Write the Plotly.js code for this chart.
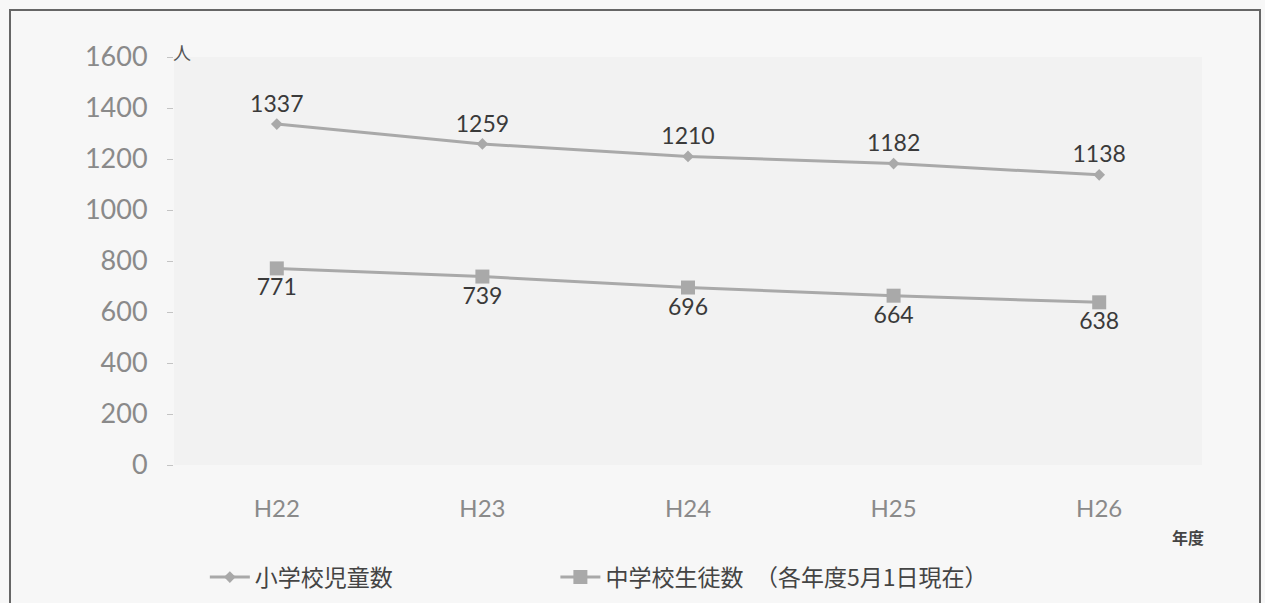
<!DOCTYPE html>
<html>
<head>
<meta charset="utf-8">
<script src="https://cdn.plot.ly/plotly-3.0.1.min.js"></script>
<style>
  html, body { margin: 0; padding: 0; background: #ffffff; }
  #chart { width: 1265px; height: 603px; }
</style>
</head>
<body>
<div id="chart"></div>
<script>
// 年度ごとの児童・生徒数
const years = ['H22', 'H23', 'H24', 'H25', 'H26'];
const elementary = [1337, 1259, 1210, 1182, 1138];
const juniorHigh = [771, 739, 696, 664, 638];
const yTicks = [0, 200, 400, 600, 800, 1000, 1200, 1400, 1600];

const lineGrey = '#a9a9a9';
const labelFont = { family: 'Lato, "Noto Sans CJK JP", sans-serif', size: 23, color: '#3a3a3a' };
const legendFont = { family: '"Noto Sans CJK JP", sans-serif', size: 23, color: '#444' };

const traces = [
  {
    x: years, y: elementary, name: '小学校児童数',
    type: 'scatter', mode: 'lines+markers+text',
    line: { color: lineGrey, width: 3 },
    marker: { symbol: 'diamond', size: 9, color: lineGrey },
    text: elementary.map(String), textposition: 'top center',
    textfont: labelFont, cliponaxis: false,
    legend: 'legend'
  },
  {
    x: years, y: juniorHigh, name: '中学校生徒数　（各年度5月1日現在）',
    type: 'scatter', mode: 'lines+markers+text',
    line: { color: lineGrey, width: 3 },
    marker: { symbol: 'square', size: 14, color: lineGrey },
    text: juniorHigh.map(String), textposition: 'bottom center',
    textfont: labelFont, cliponaxis: false,
    legend: 'legend2'
  }
];

const legendBase = {
  orientation: 'h', xanchor: 'left', y: -0.222, yanchor: 'top',
  xref: 'paper', yref: 'paper',
  font: legendFont, itemwidth: 40,
  bgcolor: 'rgba(0,0,0,0)'
};

const layout = {
  width: 1265, height: 603,
  margin: { l: 174, r: 63, t: 57, b: 138, autoexpand: false },
  paper_bgcolor: '#f7f7f7',
  plot_bgcolor: '#f2f2f2',
  showlegend: true,
  legend: Object.assign({}, legendBase, { x: 0.03 }),
  legend2: Object.assign({}, legendBase, { x: 0.371 }),
  xaxis: {
    type: 'category',
    range: [-0.5, years.length - 0.5],
    showgrid: false, zeroline: false, showline: false,
    ticks: '',
    ticklabelstandoff: 27,
    tickfont: { family: 'Lato, sans-serif', size: 24, color: '#8a8a8a' }
  },
  yaxis: {
    range: [0, 1600],
    tickvals: yTicks,
    showgrid: false, zeroline: false, showline: false,
    ticks: 'outside', ticklen: 6, tickcolor: '#c4c4c4', tickwidth: 1,
    ticklabelstandoff: 14,
    tickfont: { family: 'Lato, sans-serif', size: 27, color: '#8a8a8a' }
  },
  annotations: [
    {
      text: '人', xref: 'paper', yref: 'paper', x: 0, y: 1, xanchor: 'center', yanchor: 'bottom',
      xshift: 8, yshift: -10, showarrow: false,
      font: { family: '"Noto Sans CJK JP", sans-serif', size: 18, color: '#555' }
    },
    {
      text: '<b>年度</b>', xref: 'paper', yref: 'paper', x: 1, y: 0, xanchor: 'right', yanchor: 'top',
      xshift: 4, yshift: -58, showarrow: false,
      font: { family: '"Noto Sans CJK JP", sans-serif', size: 16, color: '#444' }
    }
  ],
  shapes: [
    {
      type: 'rect', xref: 'paper', yref: 'paper',
      x0: -164 / 1028, x1: 1 + 58 / 1028, y0: -160 / 408, y1: 1 + 47 / 408,
      line: { color: '#666', width: 2 }, fillcolor: 'rgba(0,0,0,0)', layer: 'below'
    }
  ]
};

Plotly.newPlot('chart', traces, layout, { displayModeBar: false, staticPlot: true });
</script>
</body>
</html>
